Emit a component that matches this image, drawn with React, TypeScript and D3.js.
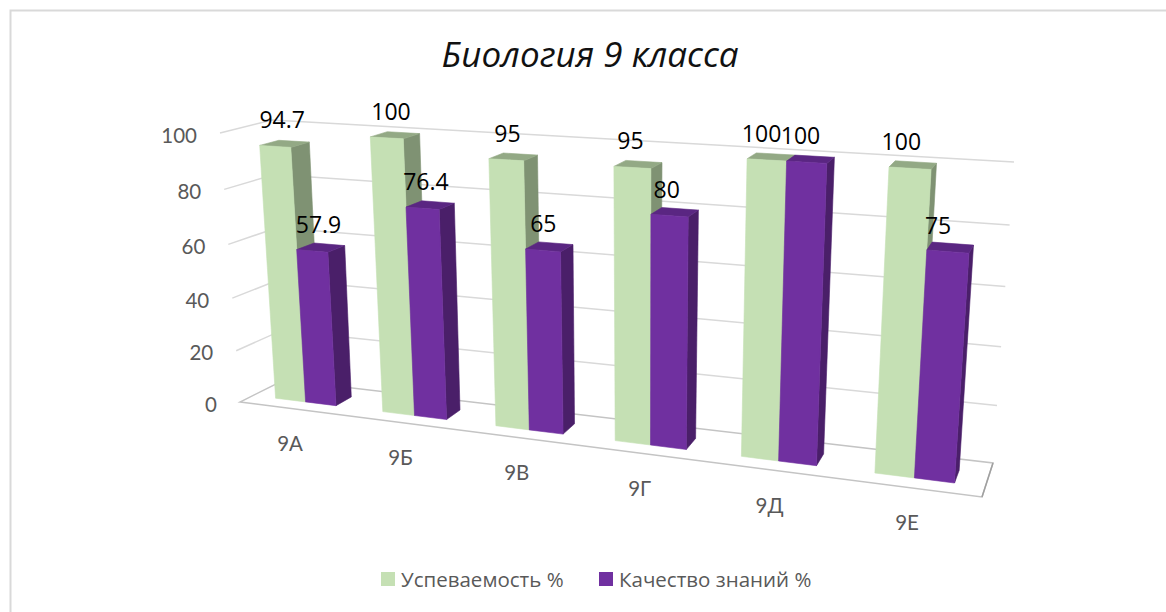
import React from "react";
import * as d3 from "d3";

const categories = ["9А", "9Б", "9В", "9Г", "9Д", "9Е"];
const seriesNames = ["Успеваемость %", "Качество знаний %"];
const uspevaemost = [94.7, 100, 95, 95, 100, 100];
const kachestvo = [57.9, 76.4, 65, 80, 100, 75];
const yTicks = [0, 20, 40, 60, 80, 100];

const W = 1166, H = 612;
type P = [number, number];
// Perspective box corners: [front/back][bottom/top][left/right]
const A: P = [240, 402], B: P = [982, 497], C: P = [993, 463], D: P = [284, 380];
const E: P = [220, 133], Hh: P = [1004, 179], G: P = [1014, 162], F: P = [272, 120];

const lerp = (a: P, b: P, t: number): P => [a[0] + (b[0] - a[0]) * t, a[1] + (b[1] - a[1]) * t];
const warpBy = (k: number) => (u: number) => u / (u + k * (1 - u));
const warp = warpBy(1.18);
const warpTop = warpBy(1.2);
const warpV = warpBy(1.06);
const vScale = d3.scaleLinear().domain([0, 100]).range([0, 1]);
const proj = (u: number, val: number, w: number): P => {
  const t = warp(u), tt = warpTop(u), s = warpV(vScale(val));
  const bottom = lerp(lerp(A, B, t), lerp(D, C, t), w);
  const top = lerp(lerp(E, Hh, tt), lerp(F, G, tt), w);
  return lerp(bottom, top, s);
};
const band = d3.scaleBand<string>().domain(categories).range([0, 1]).paddingInner(0.43).paddingOuter(0.215);
const W0 = 0.3, W1 = 0.68;
const pts = (p: P[]) => p.map(q => q.map(n => n.toFixed(1)).join(",")).join(" ");
const colors = [
  { front: "#C5E0B4", side: "#7F9273", top: "#93A985" },
  { front: "#7030A0", side: "#4A1F69", top: "#5A2682" },
];
const labelDx = d3.scaleLinear().domain([0, 1]).range([8, -11]);
const bodyFont = "'Open Sans', sans-serif";
const axisFont = "Lato, sans-serif";

const Face = ({ p, c }: { p: P[]; c: string }) => (
  <polygon points={pts(p)} fill={c} stroke={c} strokeWidth={0.6} />
);

export default function App() {
  const series = [uspevaemost, kachestvo];
  const bw = band.bandwidth() / 2;
  return (
    <svg width={W} height={H} style={{ position: "absolute", left: 0, top: 0 }}>
      <rect width={W} height={H} fill="#fff" />
      <path d="M10.5 612V10.5H1166" fill="none" stroke="#D9D9D9" strokeWidth={2} />
      <text x={590} y={67} textAnchor="middle" fontFamily={bodyFont} fontStyle="italic" fontSize={35} fill="#111">Биология 9 класса</text>
      {yTicks.filter(t => t > 0).map(t => {
        const a = proj(0, t, 0), b = proj(0, t, 1), c = proj(1, t, 1);
        return <polyline key={t} points={pts([a, b, c])} fill="none" stroke="#D9D9D9" strokeWidth={1.5} />;
      })}
      <polygon points={pts([proj(0, 0, 0), proj(1, 0, 0), proj(1, 0, 1), proj(0, 0, 1)])} fill="none" stroke="#C4C4C4" strokeWidth={1.5} />
      <line x1={proj(1, 0, 0)[0]} y1={proj(1, 0, 0)[1]} x2={proj(1, 0, 1)[0]} y2={proj(1, 0, 1)[1]} stroke="#A0A0A0" strokeWidth={1.5} />
      {yTicks.map(t => {
        const p = proj(0, t, 0);
        return <text key={t} x={p[0] - 23} y={p[1] + 9.5} textAnchor="end" fontFamily={axisFont} fontSize={20.5} fill="#595959">{t}</text>;
      })}
      {categories.map(c => {
        const u = band(c)! + band.bandwidth() / 2;
        const p = proj(u, 0, 0);
        return <text key={c} x={p[0] - 3} y={p[1] + 42.5} textAnchor="middle" fontFamily={axisFont} fontSize={20.5} fill="#595959">{c}</text>;
      })}
      {categories.map((c, i) => (
        <g key={c}>
          {series.map((vals, s) => {
            const u0 = band(c)! + s * bw, u1 = u0 + bw, v = vals[i], col = colors[s];
            return (
              <g key={s}>
                <Face p={[proj(u1, 0, W0), proj(u1, 0, W1), proj(u1, v, W1), proj(u1, v, W0)]} c={col.side} />
                <Face p={[proj(u0, v, W0), proj(u1, v, W0), proj(u1, v, W1), proj(u0, v, W1)]} c={col.top} />
                <Face p={[proj(u0, 0, W0), proj(u1, 0, W0), proj(u1, v, W0), proj(u0, v, W0)]} c={col.front} />
              </g>
            );
          })}
        </g>
      ))}
      {categories.map((c, i) =>
        series.map((vals, s) => {
          const u = band(c)! + (s + 0.5) * bw, v = vals[i];
          const p = proj(u, v, W0);
          return (
            <text key={c + s} x={p[0] + labelDx(warp(u))} y={p[1] - 18} textAnchor="middle" fontFamily={bodyFont} fontSize={23} fill="#000">{v}</text>
          );
        })
      )}
      <rect x={381} y={572} width={14} height={14} fill={colors[0].front} />
      <text x={401} y={587} fontFamily={bodyFont} fontSize={20.5} fill="#595959">{seriesNames[0]}</text>
      <rect x={599} y={572} width={14} height={14} fill={colors[1].front} />
      <text x={619} y={587} fontFamily={bodyFont} fontSize={20.5} fill="#595959">{seriesNames[1]}</text>
    </svg>
  );
}
